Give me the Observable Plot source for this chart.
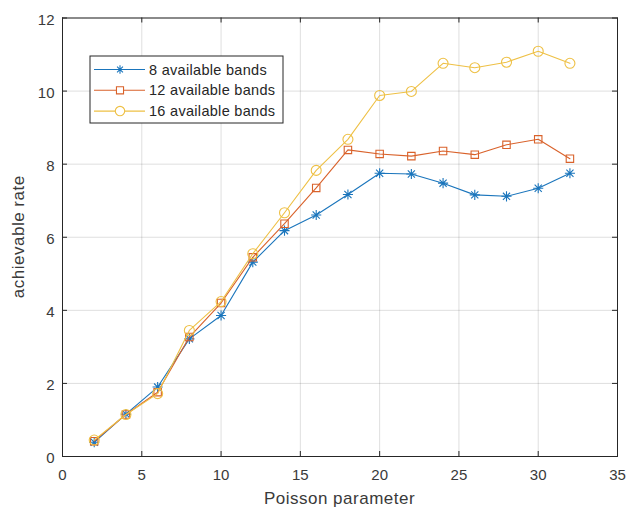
<!DOCTYPE html>
<html>
<head>
<meta charset="utf-8">
<script src="https://cdn.jsdelivr.net/npm/d3@7"></script>
<script src="https://cdn.jsdelivr.net/npm/@observablehq/plot@0.6"></script>
<style>
  html, body { margin: 0; padding: 0; background: #fff; }
  #chart { position: relative; width: 628px; height: 510px; }
  svg { font-family: "Liberation Sans", Arial, sans-serif; }
</style>
</head>
<body>
<div id="chart"></div>
<script>
const poisson = [2, 4, 6, 8, 10, 12, 14, 16, 18, 20, 22, 24, 26, 28, 30, 32];
const bands8  = [0.39, 1.16, 1.90, 3.22, 3.86, 5.32, 6.18, 6.61, 7.17, 7.75, 7.73, 7.48, 7.16, 7.12, 7.34, 7.75];
const bands12 = [0.42, 1.15, 1.76, 3.27, 4.20, 5.45, 6.37, 7.35, 8.39, 8.28, 8.22, 8.36, 8.26, 8.53, 8.68, 8.15];
const bands16 = [0.45, 1.15, 1.72, 3.45, 4.24, 5.55, 6.67, 7.83, 8.68, 9.88, 9.99, 10.76, 10.64, 10.79, 11.09, 10.76];
const seriesNames = ["8 available bands", "12 available bands", "16 available bands"];
const seriesColors = ["#1a75bc", "#d9622b", "#eec045"];
const xTicks = [0, 5, 10, 15, 20, 25, 30, 35];
const yTicks = [0, 2, 4, 6, 8, 10, 12];

const W = 628, H = 510;
const mL = 62, mR = 11, mT = 17.5, mB = 54;
const pw = W - mL - mR, ph = H - mT - mB;

// custom 8-arm asterisk
const asterisk8 = {
  draw(ctx, size) {
    const r = Math.sqrt(size) * 0.62;
    const d = r * Math.SQRT1_2;
    ctx.moveTo(0, -r); ctx.lineTo(0, r);
    ctx.moveTo(-r, 0); ctx.lineTo(r, 0);
    ctx.moveTo(-d, -d); ctx.lineTo(d, d);
    ctx.moveTo(-d, d); ctx.lineTo(d, -d);
  }
};
const symbols = [asterisk8, "square", "circle"];
const symbolR = [4.6, 4.2, 5.0];

const allSeries = [bands8, bands12, bands16];
const data = allSeries.flatMap((vals, si) => poisson.map((p, i) => ({p, v: vals[i], s: si})));

const marks = [
  Plot.gridX(xTicks, {stroke: "#000", strokeOpacity: 0.13}),
  Plot.gridY(yTicks, {stroke: "#000", strokeOpacity: 0.13}),
  // inward ticks
  Plot.ruleX(xTicks, {stroke: "#262626", insetTop: ph - 5}),
  Plot.ruleX(xTicks, {stroke: "#262626", insetBottom: ph - 5}),
  Plot.ruleY(yTicks, {stroke: "#262626", insetLeft: pw - 5}),
  Plot.ruleY(yTicks, {stroke: "#262626", insetRight: pw - 5}),
  Plot.frame({stroke: "#262626", strokeWidth: 1}),
  Plot.axisX(xTicks, {anchor: "bottom", tickSize: 0, tickPadding: 13, fontSize: 15, fill: "#3a3a3a", label: null}),
  Plot.axisY(yTicks, {anchor: "left", tickSize: 0, tickPadding: 8, dy: 2, fontSize: 15, fill: "#3a3a3a", label: null}),
];
allSeries.forEach((vals, si) => {
  const d = data.filter(o => o.s === si);
  marks.push(Plot.line(d, {x: "p", y: "v", stroke: seriesColors[si], strokeWidth: 1.1}));
  marks.push(Plot.dot(d, {x: "p", y: "v", stroke: seriesColors[si], fill: "none", strokeWidth: 1.1, symbol: () => symbols[si], r: symbolR[si]}));
});

const chart = Plot.plot({
  width: W, height: H,
  marginLeft: mL, marginRight: mR, marginTop: mT, marginBottom: mB,
  x: {domain: [0, 35]},
  y: {domain: [0, 12]},
  style: {fontFamily: '"Liberation Sans", Arial, sans-serif', background: "#fff"},
  marks
});

const svg = d3.select(chart);
// axis labels
svg.append("text")
  .attr("x", mL + pw / 2).attr("y", 504)
  .attr("text-anchor", "middle").attr("font-size", 17).attr("letter-spacing", 0.5).attr("fill", "#3a3a3a")
  .text("Poisson parameter");
svg.append("text")
  .attr("transform", `translate(24,${mT + ph / 2}) rotate(-90)`)
  .attr("text-anchor", "middle").attr("font-size", 17).attr("letter-spacing", 0.5).attr("fill", "#3a3a3a")
  .text("achievable rate");

// legend
const lg = svg.append("g").attr("transform", "translate(90,56)").attr("text-anchor", "start");
lg.append("rect").attr("width", 193).attr("height", 67).attr("fill", "#fff").attr("stroke", "#262626").attr("stroke-width", 1);
seriesNames.forEach((name, i) => {
  const y = 13.5 + i * 20.8;
  const c = seriesColors[i];
  lg.append("line").attr("x1", 4).attr("x2", 55).attr("y1", y).attr("y2", y).attr("stroke", c).attr("stroke-width", 1.1);
  const sym = d3.symbol().type(i === 0 ? asterisk8 : (i === 1 ? d3.symbolSquare : d3.symbolCircle))
    .size(i === 0 ? 45 : (i === 1 ? 50 : 70));
  lg.append("path").attr("d", sym()).attr("transform", `translate(30,${y})`).attr("fill", "#fff").attr("stroke", c).attr("stroke-width", 1.1);
  lg.append("text").attr("x", 59).attr("y", y + 5).attr("text-anchor", "start").attr("font-size", 14.5).attr("letter-spacing", 0.3).attr("fill", "#262626").text(name);
});

document.getElementById("chart").appendChild(chart);
</script>
</body>
</html>
